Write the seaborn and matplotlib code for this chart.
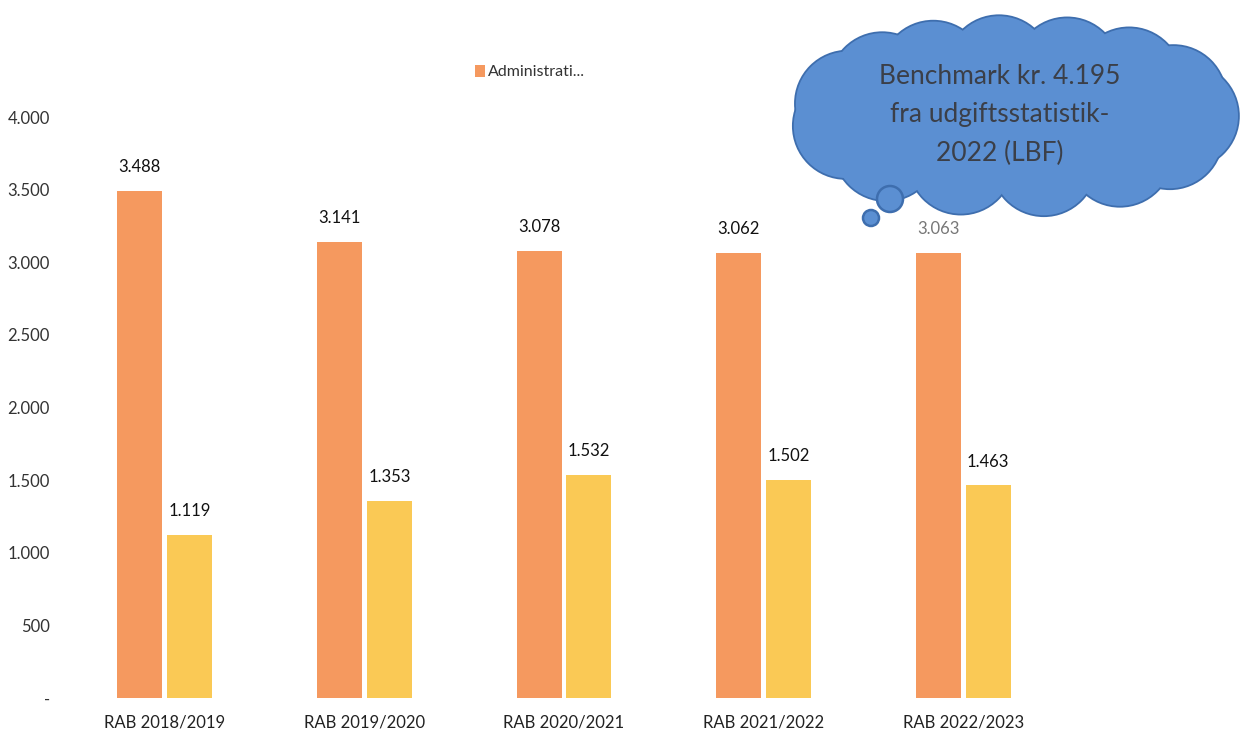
import matplotlib
matplotlib.use("Agg")
import numpy as np
import matplotlib.pyplot as plt
from matplotlib.patches import Circle, Ellipse, Patch
import seaborn as sns
import pandas as pd

# Data
years = ["RAB 2018/2019", "RAB 2019/2020", "RAB 2020/2021", "RAB 2021/2022", "RAB 2022/2023"]
administration = [3488, 3141, 3078, 3062, 3063]
other_costs = [1119, 1353, 1532, 1502, 1463]
series_names = ["Administrati...", "Øvrige"]
yticks = [0, 500, 1000, 1500, 2000, 2500, 3000, 3500, 4000]
ytick_labels = ["-", "500", "1.000", "1.500", "2.000", "2.500", "3.000", "3.500", "4.000"]

ORANGE = "#F5995F"
YELLOW = "#FAC955"
CLOUD = "#5B8FD2"
CLOUD_EDGE = "#3E6EAE"

df = pd.DataFrame({
    "year": years * 2,
    "value": administration + other_costs,
    "series": [series_names[0]] * len(years) + [series_names[1]] * len(years),
})

sns.set_style("white")
plt.rcParams["font.family"] = ["Lato", "DejaVu Sans"]

fig = plt.figure(figsize=(12.4, 7.36), dpi=100)
W, H = 1240, 736
ax = fig.add_axes([65 / W, 38 / H, (1063 - 65) / W, (698 - 117) / H])

sns.barplot(data=df, x="year", y="value", hue="series", order=years,
            hue_order=series_names, palette=[ORANGE, YELLOW],
            width=0.5, gap=0.1, dodge=True, legend=False, ax=ax,
            saturation=1, linewidth=0, err_kws={"linewidth": 0})

ax.set_ylim(0, 4000)
ax.set_xlim(-0.5, len(years) - 0.5)
ax.set_yticks(yticks)
ax.set_yticklabels(ytick_labels, fontsize=12, color="#333333")
ax.tick_params(axis="x", labelsize=12, colors="#222222", length=0, pad=12)
ax.tick_params(axis="y", length=0, pad=11)
ax.set_xlabel("")
ax.set_ylabel("")
for s in ax.spines.values():
    s.set_visible(False)

# Value labels on top of each bar
for i, cont in enumerate(ax.containers):
    for j, bar in enumerate(cont):
        val = bar.get_height()
        txt = f"{val:,.0f}".replace(",", ".")
        color = "#777777" if (i == 0 and j == len(years) - 1) else "#111111"
        ax.text(bar.get_x() + bar.get_width() / 2, val + 110, txt,
                ha="center", va="bottom", fontsize=12, color=color)

# Legend
fig.legend(handles=[Patch(facecolor=ORANGE, edgecolor="none")],
           labels=[series_names[0]], loc="center", bbox_to_anchor=(530 / W, 1 - 72 / H),
           frameon=False, fontsize=11.5, handlelength=0.6, handleheight=0.8,
           handletextpad=0.2, labelcolor="#333333")

# Thought-bubble annotation drawn in a pixel-space overlay
ov = fig.add_axes([0, 0, 1, 1], facecolor="none")
ov.set_xlim(0, W)
ov.set_ylim(H, 0)
ov.axis("off")

cx0, cy0, a, b = 1014, 116, 224, 100
bump_r = 52
angles = np.deg2rad([0, 22, 48, 72, 95, 118, 140, 165, 192, 222, 252, 280, 308, 335])
shapes = []
for t in angles:
    px = cx0 + (a - bump_r) * np.cos(t)
    py = cy0 - (b - bump_r) * np.sin(t)
    shapes.append(("c", px, py, bump_r))
shapes.append(("e", cx0, cy0, 2 * (a - 30), 2 * (b - 25)))


def make(shape, ec, lw):
    if shape[0] == "c":
        return Circle((shape[1], shape[2]), shape[3], facecolor=CLOUD, edgecolor=ec, linewidth=lw)
    return Ellipse((shape[1], shape[2]), shape[3], shape[4], facecolor=CLOUD, edgecolor=ec, linewidth=lw)


for s in shapes:
    ov.add_patch(make(s, CLOUD_EDGE, 2.6))
for s in shapes:
    ov.add_patch(make(s, "none", 0))

for (cx, cy, r) in [(890, 199, 13), (871, 218, 8)]:
    ov.add_patch(Circle((cx, cy), r, facecolor=CLOUD, edgecolor=CLOUD_EDGE, linewidth=1.8))

ov.text(1000, 115, "Benchmark kr. 4.195\nfra udgiftsstatistik-\n2022 (LBF)",
        ha="center", va="center", fontsize=19, color="#3b3f48",
        family=["Lato", "DejaVu Sans"], linespacing=1.68)

fig.savefig("out.png", dpi=100, facecolor="white")
